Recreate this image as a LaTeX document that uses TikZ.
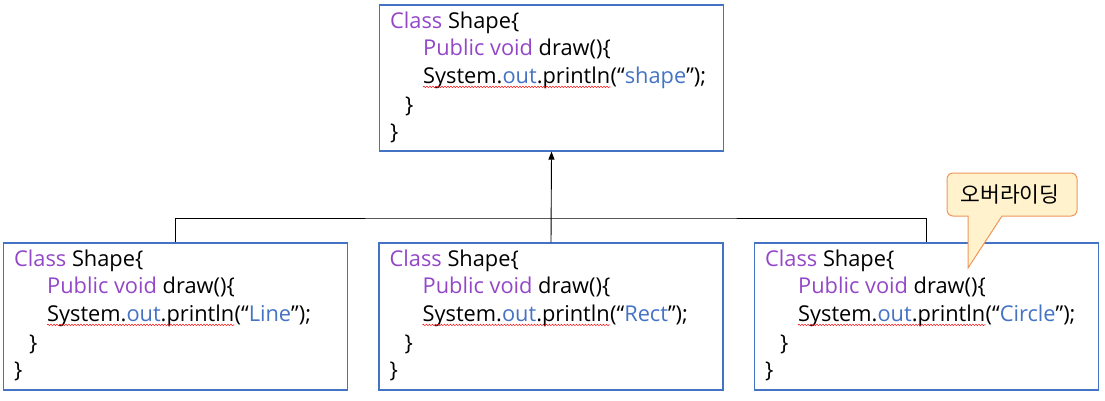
\documentclass[tikz,border=0pt]{standalone}
\usepackage{fontspec}
\setmainfont{Open Sans}
\newfontfamily\kr{Noto Sans CJK KR}
\usetikzlibrary{arrows.meta,decorations.pathmorphing}
\definecolor{kw}{RGB}{148,70,200}
\definecolor{str}{RGB}{68,114,196}
\definecolor{boxc}{RGB}{68,114,196}
\definecolor{callfill}{RGB}{255,242,204}
\definecolor{callline}{RGB}{240,150,90}
\tikzset{
  box/.style={draw=boxc, line width=1.1pt, minimum width=344pt, inner sep=0pt},
  code/.style={inner sep=0pt, font=\fontsize{21.8}{26}\selectfont},
  squig/.style={red, line width=0.45pt, decorate, decoration={snake, amplitude=0.8pt, segment length=3pt}},
  conn/.style={black, line width=0.9pt},
  callout/.style={draw=callline, fill=callfill, line width=1pt},
}
\newcommand\codebox[5]{%
  \node[box, minimum height=#4pt] (#1) at (#2,#3) {};
  \node[code, anchor=base west] (#1-c) at ([xshift=11pt,yshift=-24pt]#1.north west) {\textcolor{kw}{Class} Shape\{};
  \node[code, anchor=base west] (#1-p) at ([xshift=44pt,yshift=-51pt]#1.north west) {\textcolor{kw}{Public void} draw()\{};
  \node[code, anchor=base west] (#1-s) at ([xshift=44pt,yshift=-79pt]#1.north west) {System.\textcolor{str}{out}.println};
  \node[code, anchor=base west] (#1-a) at (#1-s.base east) {(“\textcolor{str}{#5}”);};
  \draw[squig] ([yshift=-3.5pt]#1-s.base west) -- ([yshift=-3.5pt]#1-s.base east);
  \node[code, anchor=base west] (#1-b1) at ([xshift=26pt,yshift=-108pt]#1.north west) {\}};
  \node[code, anchor=base west] (#1-b2) at ([xshift=11pt,yshift=-135pt]#1.north west) {\}};
}
\begin{document}
\begin{tikzpicture}[x=1pt,y=-1pt]
\useasboundingbox (0,0) rectangle (1105,400);
\codebox{top}{551.5}{78}{146}{shape}
\codebox{left}{175.5}{316.5}{147}{Line}
\codebox{mid}{551}{316.5}{147}{Rect}
\codebox{right}{926.5}{316.5}{147}{Circle}
\coordinate (bus) at (551,218);
\draw[conn] (left.north) |- (bus) -| (right.north);
\draw[conn, -{Triangle[length=8pt,width=6pt]}] (mid.north) -- (top.south);
\draw[callout] (968,268) -- (1002,216) [rounded corners=6pt] -- (1077,216) -- (1077,173) -- (947,173) -- (947,216) [sharp corners] -- (968,216) -- cycle;
\node[font=\kr\fontsize{21.5}{24}\selectfont, inner sep=0pt] (ovr) at (1010,194) {오버라이딩};
\end{tikzpicture}
\end{document}
